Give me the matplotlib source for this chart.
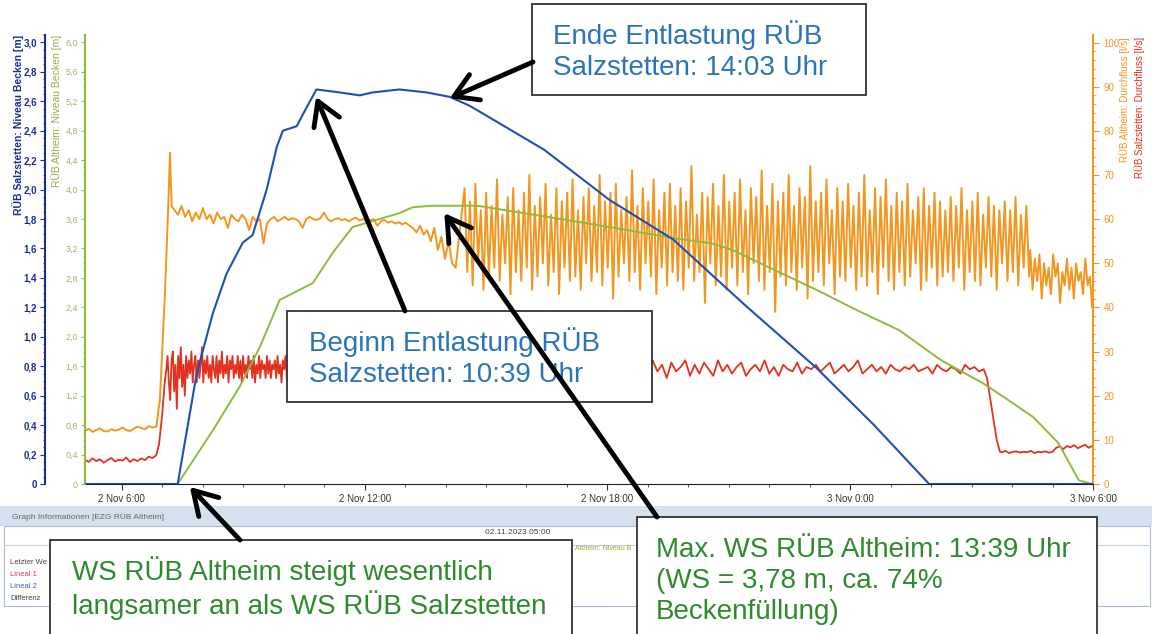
import datetime as dt
import numpy as np
import matplotlib
matplotlib.use("Agg")
import matplotlib.pyplot as plt
import matplotlib.dates as mdates
from matplotlib.patches import Rectangle
from matplotlib.ticker import FixedLocator, MultipleLocator, FuncFormatter

plt.rcParams['font.family'] = ['Liberation Sans', 'DejaVu Sans']

# %% data (time in hours after 2 Nov 2023 00:00)
blue_t = [5.09, 7.38, 7.85, 8.25, 8.59, 8.99, 9.23, 9.58, 9.83, 9.98, 10.32, 10.57,
          10.81, 11.38, 11.88, 12.2, 12.86, 13.53, 14.1, 14.59, 14.84, 16.44, 18.05,
          19.63, 21.38, 23.16, 24.59, 25.95, 29.98]
blue_v = [0, 0, 0.75, 1.16, 1.43, 1.64, 1.69, 2.00, 2.29, 2.40, 2.43, 2.56,
          2.68, 2.66, 2.64, 2.66, 2.68, 2.66, 2.63, 2.57, 2.53, 2.27, 1.93,
          1.66, 1.22, 0.79, 0.40, 0, 0]

green_t = [5.09, 7.38, 8.25, 8.91, 9.41, 9.90, 10.22, 10.72, 11.21, 11.70, 12.12, 12.86,
           13.19, 13.65, 14.79, 15.93, 16.96, 18.49, 19.63, 20.57, 21.09, 22.12, 23.16,
           24.17, 25.21, 26.25, 27.28, 27.80, 28.52, 29.14, 29.65, 29.98]
green_v = [0, 0, 0.73, 1.32, 1.86, 2.50, 2.59, 2.73, 3.14, 3.49, 3.56, 3.68,
           3.76, 3.78, 3.78, 3.68, 3.59, 3.45, 3.34, 3.27, 3.18, 2.91, 2.64,
           2.36, 2.09, 1.68, 1.37, 1.18, 0.91, 0.56, 0.05, 0]

# RÜB Altheim Durchfluss [l/s]
orange_base = [12, 12.5, 11.8, 12.2, 12.6, 12, 11.9, 12.4, 12.1, 12.3, 12.8, 12.2,
               12, 12.5, 13, 12.7, 12.4, 13.1, 12.8, 13]
orange_rise_t = [6.94, 7.06, 7.14, 7.19, 7.23]
orange_rise_v = [19, 42, 61, 75, 63]
orange_plateau = [62, 61, 63, 60.5, 62, 59.5, 61.5, 60, 62.5, 60, 61, 59, 61.5, 60, 60.5, 58,
                  61, 60, 59.5, 61, 60, 57.5, 60.5, 59.5, 60, 54.5, 59, 60, 60.5, 59.5, 60,
                  60.5, 59.8, 60.2, 60, 59.5, 58, 60, 60.5, 60, 59.8, 60.2, 61.5, 60, 59.5,
                  60, 60.2, 59.8, 60, 59.5, 60, 60.3, 59.7, 60, 59.5, 59.8, 60, 58.5, 59.5,
                  59.8, 59.2, 59.5, 59, 59.3, 58.8, 59.2, 58.5, 58, 57, 58.5, 56.5, 57.5,
                  55, 58, 53, 56, 51, 55, 50, 49]
orange_noisy = [67, 48, 64, 45, 68, 50, 62, 44, 66, 47, 63, 49, 69, 46, 61, 50, 65, 43, 67, 48,
                62, 46, 66, 49, 70, 44, 63, 47, 65, 50, 68, 45, 61, 48, 67, 43, 64, 49, 66, 46,
                69, 47, 62, 44, 65, 50, 67, 46, 63, 48, 70, 45, 64, 49, 66, 42, 68, 47, 62, 50,
                65, 46, 71, 48, 63, 44, 67, 50, 64, 47, 69, 43, 62, 49, 66, 45, 68, 48, 63, 46,
                67, 44, 64, 49, 72, 46, 61, 48, 66, 41, 65, 50, 68, 45, 63, 47, 70, 44, 64, 49,
                66, 45, 69, 48, 62, 43, 67, 50, 65, 46, 71, 44, 63, 48, 68, 39, 64, 47, 66, 45,
                70, 48, 63, 44, 67, 49, 65, 42, 72, 46, 64, 48, 66, 45, 69, 50, 62, 43, 67, 47,
                64, 46, 68, 49, 63, 44, 66, 47, 70, 45, 62, 48, 67, 43, 65, 49, 69, 46, 63, 44,
                66, 48, 64, 45, 68, 47, 62, 50, 65, 44, 67, 46, 63, 49, 66, 45, 64, 47, 62, 48,
                65, 46, 63, 49, 67, 44, 62, 48, 64, 46, 66, 45, 61, 49, 65, 47, 63, 44, 62, 50,
                64, 46, 62, 48, 65, 45, 61, 49, 63, 47]
orange_tail = [53, 44, 51, 46, 52, 42, 50, 45, 49, 43, 52, 47, 50, 41, 48, 45, 51, 44, 49, 42,
               50, 46, 48, 43, 51, 45, 47, 40]

# RÜB Salzstetten Durchfluss [l/s]
red_base = [5.5, 5.0, 5.8, 5.2, 5.6, 4.8, 5.4, 5.9, 5.1, 5.5, 5.3, 6.0, 5.0, 5.6, 5.2, 5.8,
            5.4, 6.2, 5.9, 6.5]
red_rise_t = [6.92, 7.0, 7.06, 7.1]
red_rise_v = [9, 16, 23, 26]
red_early = [29, 23, 19, 28, 30, 21, 27, 17, 29, 24, 31, 22, 27, 20, 29, 24, 28, 25, 30, 23,
             27, 29, 23, 28, 24, 27, 31, 23, 28, 25, 29, 24, 27, 23, 29, 26, 24, 29, 23, 28,
             25, 30, 24, 27, 25, 29, 23, 28, 26, 29, 24, 27, 25, 29, 24, 28, 23, 29, 25, 27,
             24, 29, 26, 28, 24, 29, 23, 27, 25, 29, 24, 28, 26, 27, 24, 29, 25, 28, 24, 27,
             26, 28, 24, 29, 25, 27, 23, 28, 26, 29, 24, 27, 25, 28, 24, 29, 26, 27, 24, 28,
             25, 29, 23, 27, 26, 28, 24, 29, 25, 27]
red_mid = [26, 27, 25, 26.5, 25.5, 27, 26, 25, 26.5, 26, 27, 25.5, 26, 26.5, 25, 26, 27, 26,
           25.5, 26]
red_late = [26, 27, 25.5, 26.5, 25, 27, 26, 25.5, 27, 26, 25, 26.5, 27.5, 25.5, 26, 26.5, 25, 27,
            26, 25.5, 26.5, 25, 27, 26, 25.5, 26.5, 24.5, 26, 27, 25.5, 26, 26.5, 25, 27.5, 26,
            25, 26.5, 26, 27, 25.5, 26, 24.5, 27.5, 25, 28, 25.5, 27, 24, 27.5, 25.5, 26.5, 28,
            24.5, 27, 25, 27.5, 26, 24.5, 28, 25.5, 27, 25, 26.5, 27.5, 24.5, 26, 27, 25.5, 28,
            25, 26.5, 24.5, 27, 26, 25.5, 27.5, 25, 26.5, 26, 27, 25.5, 26.5, 27.5, 25, 26, 27,
            25.5, 26.5, 28, 25, 26, 27, 25.5, 26.5, 25, 27, 26, 25.5, 26.5, 26, 27, 25.5, 26,
            26.5, 25, 27, 26, 25.5, 26.5, 26, 25, 27, 26, 26.5, 25.5, 26]
red_drop_t = [27.38, 27.5, 27.62, 27.7]
red_drop_v = [24, 17, 10, 7.3]
red_tail = [7.2, 7.5, 7.0, 7.3, 7.4, 7.1, 7.3, 7.2, 7.5, 7.0, 7.3, 7.2, 7.4, 7.1, 7.3, 8.2,
            8.5, 7.9, 8.6, 8.3, 8.8, 8.1, 8.5, 8.9, 8.2, 8.6]

xtick_hours = [6, 12, 18, 24, 30]
xtick_labels = ['2 Nov 6:00', '2 Nov 12:00', '2 Nov 18:00', '3 Nov 0:00', '3 Nov 6:00']

# %% helpers
day0 = mdates.date2num(dt.datetime(2023, 11, 2))


def tnum(h):
    return day0 + np.asarray(h, dtype=float) / 24.0


def span(h0, h1, vals):
    return list(np.linspace(h0, h1, len(vals)))


orange_t = (span(5.09, 6.85, orange_base) + orange_rise_t + span(7.3, 14.25, orange_plateau)
            + span(14.47, 28.42, orange_noisy) + span(28.45, 29.98, orange_tail))
orange_v = orange_base + orange_rise_v + orange_plateau + orange_noisy + orange_tail

red_t = (span(5.09, 6.85, red_base) + red_rise_t + span(7.13, 10.7, red_early)
         + span(10.75, 14.0, red_mid) + span(14.05, 27.3, red_late) + red_drop_t
         + span(27.75, 29.98, red_tail))
red_v = red_base + red_rise_v + red_early + red_mid + red_late + red_drop_v + red_tail

BLUE = '#1f4fb4'
BLUE_AX = '#1a2f8c'
GREEN = '#8dbb3c'
ORANGE = '#f2961f'
RED = '#e2321f'


def comma(v, pos):
    if abs(v) < 1e-9:
        return '0'
    return f'{v:.1f}'.replace('.', ',')


# %% figure
W, H = 1152, 634
fig = plt.figure(figsize=(W / 100, H / 100), dpi=100)
L, R, B, T = 85 / W, 1093 / W, (H - 484) / H, (H - 35) / H

ax_q = fig.add_axes([L, B, R - L, T - B])
ax_q.plot(tnum(orange_t), orange_v, color=ORANGE, lw=1.4)
ax_q.plot(tnum(red_t), red_v, color=RED, lw=1.3)
ax_q.set_ylim(0, 101.7)
ax_q.set_xlim(tnum(5.09), tnum(30.0))

ax_g = ax_q.twinx()
ax_b = ax_q.twinx()

# flow axis on the right (after twinx, which moves it left)
ax_q.yaxis.tick_right()
ax_q.yaxis.set_label_position('right')
ax_q.yaxis.set_major_locator(MultipleLocator(10))
ax_q.yaxis.set_minor_locator(MultipleLocator(2))
ax_q.tick_params(axis='y', which='both', colors=ORANGE, labelsize=7, direction='out')
ax_q.tick_params(axis='y', which='major', length=4)
ax_q.tick_params(axis='y', which='minor', length=2)
for s in ['left', 'top']:
    ax_q.spines[s].set_visible(False)
ax_q.spines['right'].set_color(ORANGE)
ax_q.spines['right'].set_linewidth(1.5)
ax_q.spines['bottom'].set_color('#222222')
ax_q.xaxis.set_major_locator(FixedLocator(list(tnum(xtick_hours))))
ax_q.xaxis.set_minor_locator(FixedLocator(list(tnum(np.arange(6, 30)))))
ax_q.set_xticklabels(xtick_labels)
ax_q.tick_params(axis='x', which='both', labelsize=7, colors='#333333', direction='out')
ax_q.tick_params(axis='x', which='major', length=4)
ax_q.tick_params(axis='x', which='minor', length=2)

ax_g.plot(tnum(green_t), green_v, color=GREEN, lw=1.4)
ax_g.set_ylim(0, 6.1)
ax_g.yaxis.tick_left()
ax_g.yaxis.set_major_locator(MultipleLocator(0.4))
ax_g.yaxis.set_minor_locator(MultipleLocator(0.1))
ax_g.yaxis.set_major_formatter(FuncFormatter(comma))
ax_g.tick_params(axis='y', which='both', colors='#9cb865', labelsize=6.5, direction='out', pad=2)
ax_g.tick_params(axis='y', which='major', length=3)
ax_g.tick_params(axis='y', which='minor', length=1.5)
for s in ['right', 'top', 'bottom']:
    ax_g.spines[s].set_visible(False)
ax_g.spines['left'].set_color(GREEN)
ax_g.spines['left'].set_linewidth(1.5)

ax_b.plot(tnum(blue_t), blue_v, color=BLUE, lw=1.5)
ax_b.set_ylim(0, 3.05)
ax_b.yaxis.tick_left()
ax_b.spines['left'].set_position(('outward', 29))
ax_b.yaxis.set_major_locator(MultipleLocator(0.2))
ax_b.yaxis.set_minor_locator(MultipleLocator(0.05))
ax_b.yaxis.set_major_formatter(FuncFormatter(comma))
ax_b.tick_params(axis='y', which='both', colors=BLUE_AX, labelsize=7, direction='out', pad=2)
ax_b.tick_params(axis='y', which='major', length=3.5)
ax_b.tick_params(axis='y', which='minor', length=1.5)
for lab in ax_b.get_yticklabels():
    lab.set_fontweight('bold')
for s in ['right', 'top', 'bottom']:
    ax_b.spines[s].set_visible(False)
ax_b.spines['left'].set_color(BLUE_AX)
ax_b.spines['left'].set_linewidth(1.5)

# %% overlay in pixel coordinates
ov = fig.add_axes([0, 0, 1, 1], zorder=5)
ov.set_xlim(0, W)
ov.set_ylim(H, 0)
ov.axis('off')
ov.patch.set_alpha(0)

# axis titles
ov.text(18, 35, 'RÜB Salzstetten: Niveau Becken [m]', rotation=90, ha='center', va='top',
        fontsize=7.5, color=BLUE_AX, fontweight='bold')
ov.text(57, 35, 'RÜB Altheim: Niveau Becken [m]', rotation=90, ha='center', va='top',
        fontsize=7.5, color='#8fb04a')
ov.text(1125, 37, 'RÜB Altheim: Durchfluss [l/s]', rotation=90, ha='center', va='top',
        fontsize=7, color=ORANGE)
ov.text(1140, 37, 'RÜB Salzstetten: Durchfluss [l/s]', rotation=90, ha='center', va='top',
        fontsize=7, color=RED)

# graph information panel
ov.add_patch(Rectangle((0, 506), W, 20, fc='#d5e1ee', ec='none', zorder=1))
ov.add_patch(Rectangle((4, 526), W - 6, 80, fc='white', ec='#a8bcd4', lw=0.8, zorder=1))
ov.plot([4, W - 2], [545, 545], color='#c8d3df', lw=0.8, zorder=1)
ov.text(12, 517, 'Graph Informationen [EZG RÜB Altheim]', fontsize=6, color='#666666',
        va='center', zorder=1.5)
ov.text(485, 533, '02.11.2023 05:00', fontsize=6, color='#444444', va='center', zorder=1.5)
ov.text(575, 548, 'Altheim: Niveau B', fontsize=5, color='#a0a040', va='center', zorder=1.5)
for lab, yy, col in [('Letzter We', 563, '#444444'), ('Lineal 1', 575, '#d04060'),
                     ('Lineal 2', 587, '#4060c0'), ('Differenz', 599, '#444444')]:
    ov.text(10, yy, lab, fontsize=5.5, color=col, va='center', zorder=1.5)

# annotation boxes
BOX_BLUE = '#2b74b8'
BOX_GREEN = '#2f8a2f'


def box(x0, y0, x1, y1):
    ov.add_patch(Rectangle((x0, y0), x1 - x0, y1 - y0, fc='white', ec='#333333', lw=1.3,
                           zorder=3))


box(532, 4, 866, 95)
ov.text(553, 51, 'Ende Entlastung RÜB\nSalzstetten: 14:03 Uhr', fontsize=20, color=BOX_BLUE,
        va='center', linespacing=1.25, zorder=3.5)
box(287, 311, 652, 402)
ov.text(309, 358, 'Beginn Entlastung RÜB\nSalzstetten: 10:39 Uhr', fontsize=20, color=BOX_BLUE,
        va='center', linespacing=1.25, zorder=3.5)
box(50, 540, 572, 640)
ov.text(72, 588, 'WS RÜB Altheim steigt wesentlich\nlangsamer an als WS RÜB Salzstetten',
        fontsize=20, color=BOX_GREEN, va='center', linespacing=1.15, zorder=3.5)
box(637, 517, 1097, 640)
ov.text(656, 581, 'Max. WS RÜB Altheim: 13:39 Uhr\n(WS = 3,78 m, ca. 74%\nBeckenfüllung)',
        fontsize=20, color=BOX_GREEN, va='center', linespacing=1.25, zorder=3.5)

# arrows
arrow = dict(arrowstyle='->,head_length=0.75,head_width=0.45', lw=3.5, color='black',
             mutation_scale=22, shrinkA=0, shrinkB=0)
ov.annotate('', xy=(tnum(14.1), 2.62), xycoords=ax_b.transData, xytext=(533, 62),
            textcoords='data', arrowprops=arrow, zorder=4)
ov.annotate('', xy=(tnum(10.8), 2.63), xycoords=ax_b.transData, xytext=(405, 311),
            textcoords='data', arrowprops=arrow, zorder=4)
ov.annotate('', xy=(tnum(7.68), -0.02), xycoords=ax_b.transData, xytext=(240, 540),
            textcoords='data', arrowprops=arrow, zorder=4)
ov.annotate('', xy=(tnum(13.97), 3.68), xycoords=ax_g.transData, xytext=(657, 517),
            textcoords='data', arrowprops=arrow, zorder=4)

fig.savefig('out.png', dpi=100)
